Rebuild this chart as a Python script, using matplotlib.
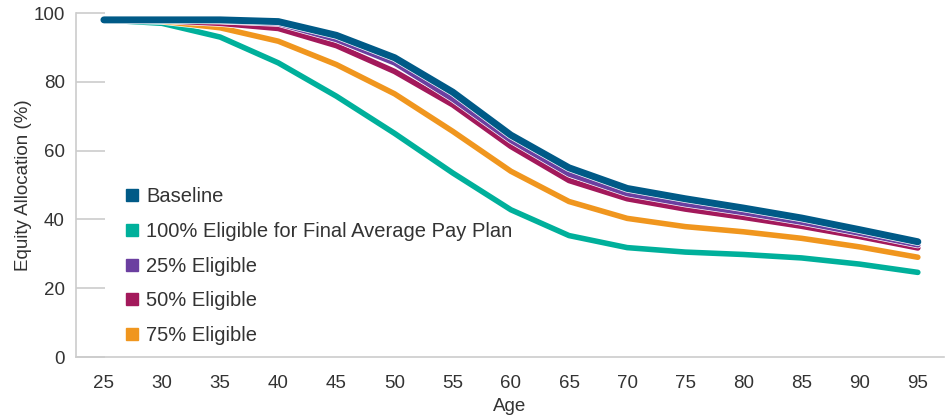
import matplotlib.pyplot as plt
import matplotlib.patheffects as pe
from matplotlib.lines import Line2D

plt.rcParams['font.family'] = ['Liberation Sans', 'DejaVu Sans']

ages = [25, 30, 35, 40, 45, 50, 55, 60, 65, 70, 75, 80, 85, 90, 95]

baseline = [98, 98, 98, 97.5, 93.5, 87, 77, 64.5, 55, 49, 46, 43.3, 40.4, 37, 33.5]
eligible_100 = [98, 97, 93, 85.5, 75.8, 65, 53.5, 42.8, 35.3, 31.8, 30.5, 29.8, 28.8, 27, 24.6]
eligible_25 = [98, 98, 97.7, 97, 92.3, 85.5, 75, 63, 53.2, 47.5, 44.5, 42, 39.2, 36, 32.6]
eligible_50 = [98, 97.8, 97, 95.5, 90.5, 83, 73.3, 61.2, 51.3, 46, 43, 40.6, 38, 35, 31.7]
eligible_75 = [98, 97.6, 95.7, 91.8, 85, 76.5, 65.6, 54, 45.2, 40.3, 37.9, 36.4, 34.5, 32, 29]

labels = ["Baseline", "100% Eligible for Final Average Pay Plan",
          "25% Eligible", "50% Eligible", "75% Eligible"]
colors = ["#005a87", "#00b09b", "#6b3fa0", "#a3195b", "#f0961e"]
series = [baseline, eligible_100, eligible_25, eligible_50, eligible_75]

fig = plt.figure(figsize=(9.49, 4.17), dpi=100)
ax = fig.add_axes([76 / 949, 60 / 417, 868 / 949, 344 / 417])

x = list(range(len(ages)))
# draw bottom-most first so baseline sits on top
for i in [1, 4, 3, 2, 0]:
    lw = 5 if i == 0 else 4
    ax.plot(x, series[i], color=colors[i], lw=lw, solid_capstyle='round',
            solid_joinstyle='round',
            path_effects=[pe.Stroke(linewidth=lw + 1, foreground='white'), pe.Normal()])

ax.set_xlim(-0.48, len(ages) - 0.55)
ax.set_ylim(0, 100)
ax.set_xticks(x)
ax.set_xticklabels([str(a) for a in ages])
ax.set_yticks([0, 20, 40, 60, 80, 100])

for s in ['top', 'right']:
    ax.spines[s].set_visible(False)
for s in ['left', 'bottom']:
    ax.spines[s].set_color('#cccccc')
    ax.spines[s].set_linewidth(1.2)

ax.tick_params(axis='y', direction='in', length=21, width=1.2, color='#cccccc',
               labelsize=13.5, labelcolor='#333333', pad=8)
ax.tick_params(axis='x', length=0, labelsize=13.5, labelcolor='#333333', pad=13)

ax.set_xlabel("Age", fontsize=13.5, color='#333333', labelpad=4)
ax.set_ylabel("Equity Allocation (%)", fontsize=13.5, color='#333333', labelpad=1)

handles = [Line2D([], [], marker='s', color=c, linestyle='None', markersize=8) for c in colors]
ax.legend(handles, labels, loc='center left', bbox_to_anchor=(0.046, 0.264),
          borderaxespad=0, frameon=False, fontsize=14.5, labelspacing=0.78,
          handlelength=0.8, handletextpad=0.3, labelcolor='#333333')

fig.savefig("out.png", dpi=100)
